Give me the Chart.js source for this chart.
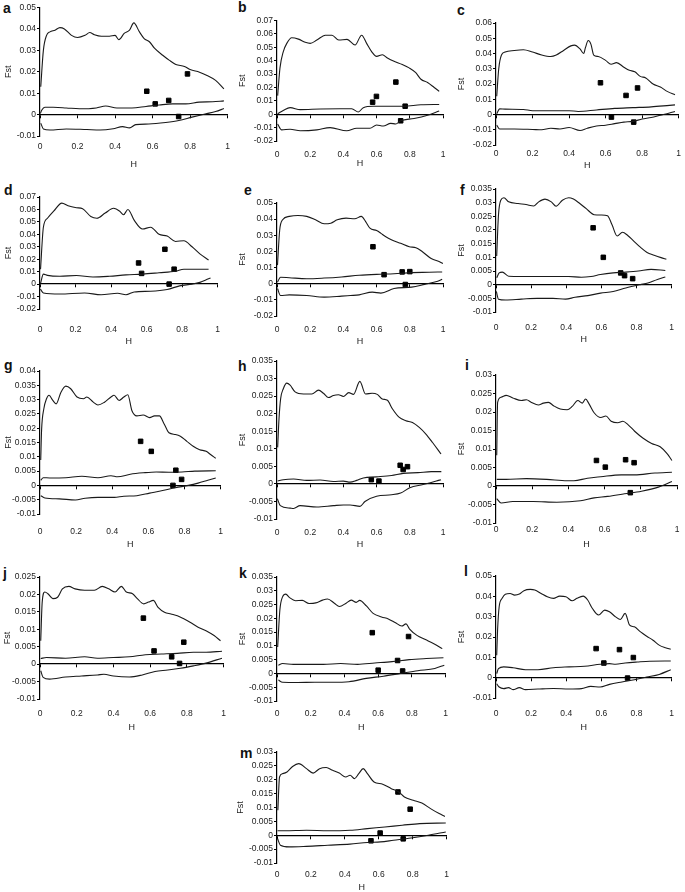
<!DOCTYPE html>
<html>
<head>
<meta charset="utf-8">
<script src="https://cdn.jsdelivr.net/npm/chart.js@4.4.0/dist/chart.umd.min.js"></script>
<style>
  body { margin: 0; background: #fff; }
  #page { position: relative; width: 685px; height: 892px; overflow: hidden; background: #fff; }
  #page canvas { position: absolute; }
  .tag { position: absolute; font: bold 14px "Liberation Sans", Arial, sans-serif; color: #111; line-height: 16px; }
</style>
</head>
<body>
<div id="page"></div>
<script>
// ---- data: [H, Fst] pairs ----
const upperA = [[0.004,0.013],[0.018,0.030],[0.035,0.037],[0.053,0.0386],[0.08,0.0394],[0.106,0.0406],[0.13,0.040],[0.168,0.037],[0.2,0.036],[0.24,0.037],[0.265,0.0383],[0.29,0.0373],[0.327,0.0366],[0.37,0.0366],[0.4,0.037],[0.42,0.035],[0.45,0.038],[0.477,0.0394],[0.5,0.0428],[0.53,0.0386],[0.555,0.0355],[0.583,0.034],[0.61,0.031],[0.654,0.0277],[0.69,0.0253],[0.724,0.0234],[0.77,0.0225],[0.8,0.021],[0.85,0.0198],[0.89,0.0183],[0.936,0.016],[0.98,0.012]];
const medianA = [[0.002,0.0005],[0.009,0.002],[0.026,0.0034],[0.07,0.0034],[0.14,0.0031],[0.21,0.0027],[0.3,0.0031],[0.35,0.004],[0.41,0.0031],[0.49,0.0031],[0.565,0.0038],[0.636,0.0045],[0.707,0.005],[0.777,0.005],[0.848,0.0058],[0.92,0.006],[0.98,0.0064]];
const lowerA = [[0.004,-0.004],[0.018,-0.0067],[0.053,-0.0072],[0.14,-0.0067],[0.25,-0.007],[0.32,-0.0072],[0.39,-0.0066],[0.44,-0.0056],[0.477,-0.0062],[0.51,-0.0047],[0.58,-0.0044],[0.67,-0.0037],[0.74,-0.0028],[0.81,-0.0012],[0.88,0.0003],[0.936,0.0014],[0.98,0.0028]];
const pointsA = [[0.569,0.0109],[0.614,0.005],[0.686,0.0066],[0.739,-0.0009],[0.786,0.019]];

const upperB = [[0.004,0.0139],[0.018,0.0346],[0.038,0.0468],[0.059,0.0529],[0.089,0.0571],[0.129,0.0561],[0.17,0.0537],[0.2,0.0529],[0.24,0.0554],[0.291,0.059],[0.331,0.059],[0.372,0.0554],[0.422,0.0559],[0.47,0.0517],[0.51,0.059],[0.54,0.0529],[0.57,0.0468],[0.6,0.0432],[0.635,0.0444],[0.665,0.042],[0.705,0.0395],[0.755,0.0371],[0.796,0.0346],[0.836,0.031],[0.867,0.0261],[0.907,0.0237],[0.947,0.02],[0.977,0.0171]];
const medianB = [[0.004,0.0003],[0.04,0.003],[0.079,0.0049],[0.14,0.0034],[0.26,0.0039],[0.38,0.0041],[0.45,0.0041],[0.49,0.0017],[0.52,0.0049],[0.58,0.0059],[0.665,0.0059],[0.765,0.0059],[0.867,0.0071],[0.977,0.0073]];
const lowerB = [[0.004,-0.0073],[0.028,-0.0117],[0.079,-0.0112],[0.14,-0.0124],[0.24,-0.0117],[0.32,-0.01],[0.42,-0.0124],[0.48,-0.0105],[0.56,-0.0105],[0.6,-0.008],[0.64,-0.0088],[0.685,-0.0068],[0.715,-0.0073],[0.745,-0.0049],[0.826,-0.0032],[0.907,-0.0007],[0.977,0.0024]];
const pointsB = [[0.576,0.009],[0.599,0.0133],[0.716,0.024],[0.772,0.006],[0.745,-0.0049]];

const upperC = [[0.004,0.012],[0.015,0.03],[0.03,0.039],[0.05,0.041],[0.1,0.042],[0.15,0.0425],[0.2,0.041],[0.25,0.039],[0.3,0.038],[0.33,0.039],[0.37,0.042],[0.41,0.045],[0.43,0.0455],[0.46,0.043],[0.48,0.04],[0.49,0.044],[0.505,0.0485],[0.52,0.046],[0.535,0.039],[0.56,0.038],[0.6,0.0355],[0.63,0.033],[0.66,0.034],[0.7,0.031],[0.73,0.029],[0.76,0.028],[0.79,0.025],[0.82,0.024],[0.86,0.02],[0.9,0.018],[0.94,0.015],[0.98,0.013]];
const medianC = [[0.004,0.0005],[0.02,0.0037],[0.05,0.0035],[0.15,0.0033],[0.2,0.0025],[0.3,0.0025],[0.4,0.0025],[0.45,0.002],[0.55,0.003],[0.65,0.004],[0.75,0.0045],[0.85,0.005],[0.95,0.006],[0.98,0.0063]];
const lowerC = [[0.004,-0.007],[0.02,-0.0095],[0.1,-0.0095],[0.2,-0.0098],[0.25,-0.01],[0.3,-0.009],[0.35,-0.0095],[0.4,-0.0085],[0.46,-0.0105],[0.5,-0.009],[0.55,-0.0075],[0.6,-0.007],[0.65,-0.006],[0.7,-0.005],[0.75,-0.0045],[0.8,-0.003],[0.85,-0.002],[0.9,-0.0005],[0.95,0.001],[0.98,0.002]];
const pointsC = [[0.572,0.0208],[0.632,-0.0017],[0.712,0.0125],[0.775,0.0174],[0.754,-0.005]];

const upperD = [[0.003,0.012],[0.019,0.0457],[0.042,0.0529],[0.077,0.0586],[0.123,0.0651],[0.158,0.0629],[0.205,0.0614],[0.24,0.0606],[0.286,0.0543],[0.32,0.0529],[0.367,0.0571],[0.414,0.0609],[0.449,0.0586],[0.47,0.0557],[0.495,0.06],[0.53,0.0514],[0.577,0.0443],[0.623,0.0457],[0.67,0.04],[0.716,0.0386],[0.763,0.0343],[0.81,0.0349],[0.856,0.03],[0.9,0.0243],[0.949,0.0194]];
const medianD = [[0.003,0.0005],[0.019,0.008],[0.042,0.007],[0.112,0.0063],[0.205,0.0069],[0.298,0.0057],[0.391,0.0063],[0.484,0.0074],[0.577,0.008],[0.67,0.0091],[0.763,0.0103],[0.81,0.012],[0.88,0.012],[0.949,0.012]];
const lowerD = [[0.002,-0.004],[0.019,-0.0071],[0.112,-0.008],[0.251,-0.0071],[0.344,-0.0086],[0.437,-0.0074],[0.484,-0.0086],[0.53,-0.0063],[0.623,-0.0057],[0.716,-0.0043],[0.786,-0.0014],[0.856,0],[0.9,0.0014],[0.949,0.0043],[0.96,0.0049]];
const pointsD = [[0.555,0.017],[0.572,0.0086],[0.703,0.028],[0.755,0.012],[0.727,0]];

const upperE = [[0.003,0.0115],[0.016,0.033],[0.034,0.0396],[0.074,0.0417],[0.126,0.0423],[0.179,0.0417],[0.232,0.0396],[0.284,0.0371],[0.324,0.0375],[0.363,0.0396],[0.416,0.0406],[0.468,0.0402],[0.508,0.0417],[0.534,0.0385],[0.56,0.0344],[0.6,0.0329],[0.626,0.0312],[0.653,0.0292],[0.692,0.0271],[0.745,0.025],[0.797,0.0229],[0.837,0.0223],[0.876,0.0198],[0.929,0.0156],[0.982,0.0135],[1.0,0.0125]];
const medianE = [[0.003,0.001],[0.021,0.004],[0.074,0.0037],[0.179,0.0031],[0.284,0.0035],[0.389,0.0042],[0.495,0.0052],[0.6,0.0058],[0.705,0.0062],[0.811,0.0069],[0.916,0.0071],[0.995,0.0073]];
const lowerE = [[0.003,-0.003],[0.021,-0.0073],[0.074,-0.0069],[0.179,-0.0073],[0.284,-0.0083],[0.389,-0.0077],[0.442,-0.0073],[0.495,-0.0069],[0.574,-0.0052],[0.626,-0.0058],[0.705,-0.003],[0.811,-0.0021],[0.889,-0.0004],[0.968,0.0015],[0.995,0.0027]];
const pointsE = [[0.578,0.0229],[0.645,0.0056],[0.754,0.0073],[0.8,0.0075],[0.773,-0.0005]];

const upperF = [[0.004,0.0105],[0.014,0.0254],[0.027,0.0309],[0.045,0.0318],[0.072,0.0303],[0.126,0.0297],[0.171,0.0293],[0.216,0.0288],[0.243,0.0303],[0.279,0.0313],[0.315,0.0303],[0.342,0.0287],[0.378,0.0309],[0.414,0.0318],[0.441,0.0313],[0.477,0.0297],[0.514,0.0278],[0.559,0.0256],[0.6,0.0255],[0.635,0.0252],[0.66,0.022],[0.69,0.0178],[0.72,0.0192],[0.75,0.018],[0.78,0.0162],[0.82,0.0138],[0.86,0.0118],[0.9,0.0108],[0.94,0.0099],[0.97,0.0093]];
const medianF = [[0.004,0.0025],[0.018,0.0043],[0.036,0.0046],[0.072,0.0031],[0.144,0.003],[0.234,0.003],[0.324,0.003],[0.414,0.003],[0.486,0.0027],[0.541,0.003],[0.595,0.0037],[0.667,0.0043],[0.739,0.0046],[0.811,0.005],[0.883,0.0056],[0.964,0.0052]];
const lowerF = [[0.002,-0.0025],[0.014,-0.0053],[0.054,-0.0056],[0.144,-0.0053],[0.234,-0.005],[0.324,-0.005],[0.396,-0.0053],[0.45,-0.0046],[0.523,-0.004],[0.595,-0.0031],[0.667,-0.0025],[0.739,-0.0012],[0.82,0],[0.865,0.0006],[0.919,0.0019],[0.964,0.0028]];
const pointsF = [[0.553,0.0208],[0.611,0.01],[0.71,0.0043],[0.732,0.0033],[0.778,0.0022]];

const upperG = [[0.004,0.0089],[0.009,0.0196],[0.021,0.0267],[0.036,0.0303],[0.05,0.0315],[0.071,0.0297],[0.089,0.0285],[0.116,0.0326],[0.143,0.0347],[0.17,0.0338],[0.205,0.0309],[0.241,0.0303],[0.259,0.0309],[0.295,0.0291],[0.321,0.0281],[0.357,0.0291],[0.393,0.0309],[0.41,0.0315],[0.438,0.0297],[0.464,0.0309],[0.486,0.0317],[0.509,0.0261],[0.536,0.0243],[0.571,0.0246],[0.607,0.0237],[0.634,0.0243],[0.661,0.0243],[0.688,0.0214],[0.714,0.0184],[0.75,0.0178],[0.777,0.0172],[0.813,0.0154],[0.848,0.0137],[0.884,0.0125],[0.92,0.0119],[0.946,0.0107],[0.973,0.0095]];
const medianG = [[0.004,0.0018],[0.018,0.0027],[0.054,0.0026],[0.143,0.0027],[0.232,0.0032],[0.321,0.0027],[0.393,0.0034],[0.429,0.003],[0.5,0.0039],[0.571,0.0044],[0.643,0.0047],[0.714,0.0046],[0.786,0.0047],[0.857,0.005],[0.973,0.0051]];
const lowerG = [[0.004,-0.0036],[0.027,-0.0044],[0.107,-0.0047],[0.196,-0.0051],[0.25,-0.0045],[0.321,-0.0042],[0.411,-0.0042],[0.464,-0.0038],[0.536,-0.0036],[0.607,-0.0027],[0.679,-0.0018],[0.75,-0.0008],[0.821,0],[0.875,0.0008],[0.929,0.0018],[0.973,0.0026]];
const pointsG = [[0.557,0.0154],[0.616,0.0119],[0.752,0.0053],[0.784,0.0021],[0.736,0]];

const upperH = [[0.004,0.0104],[0.012,0.0185],[0.022,0.0243],[0.038,0.0271],[0.059,0.0287],[0.079,0.0281],[0.109,0.0262],[0.16,0.0256],[0.21,0.0256],[0.25,0.0267],[0.28,0.0258],[0.31,0.0246],[0.34,0.0252],[0.37,0.0254],[0.4,0.0249],[0.432,0.026],[0.461,0.0255],[0.499,0.0292],[0.533,0.0256],[0.573,0.0258],[0.604,0.0255],[0.634,0.0242],[0.665,0.0238],[0.695,0.0214],[0.735,0.019],[0.776,0.018],[0.816,0.0175],[0.857,0.0161],[0.897,0.0142],[0.937,0.0118],[0.988,0.0085]];
const medianH = [[0.004,0.0008],[0.038,0.0012],[0.1,0.0014],[0.18,0.001],[0.26,0.0011],[0.34,0.0007],[0.4,0.0008],[0.44,0.0005],[0.48,0.001],[0.52,0.0017],[0.6,0.002],[0.69,0.0024],[0.76,0.003],[0.85,0.0032],[0.93,0.0035],[0.99,0.0035]];
const lowerH = [[0.002,-0.0042],[0.02,-0.0062],[0.079,-0.0069],[0.1,-0.007],[0.139,-0.0062],[0.24,-0.0066],[0.34,-0.0062],[0.4,-0.006],[0.44,-0.006],[0.5,-0.0064],[0.53,-0.005],[0.6,-0.0035],[0.69,-0.0031],[0.745,-0.0026],[0.8,-0.0011],[0.88,-0.0002],[0.96,0.0008],[0.988,0.0012]];
const pointsH = [[0.568,0.0012],[0.614,0.0008],[0.742,0.0053],[0.76,0.0041],[0.786,0.0049]];

const upperI = [[0.004,0.0083],[0.009,0.0226],[0.028,0.024],[0.056,0.0245],[0.093,0.0238],[0.14,0.0231],[0.168,0.0233],[0.196,0.0226],[0.234,0.0219],[0.262,0.0224],[0.29,0.0226],[0.318,0.0217],[0.355,0.0208],[0.393,0.0206],[0.421,0.0215],[0.452,0.0231],[0.477,0.0224],[0.495,0.0235],[0.514,0.0222],[0.542,0.0198],[0.579,0.0185],[0.607,0.0189],[0.636,0.0175],[0.673,0.0171],[0.701,0.0175],[0.729,0.0166],[0.766,0.0148],[0.813,0.0129],[0.86,0.0115],[0.907,0.0106],[0.944,0.0088],[0.972,0.0069]];
const medianI = [[0.004,0.0018],[0.056,0.0018],[0.168,0.002],[0.28,0.0018],[0.393,0.0014],[0.43,0.0014],[0.505,0.0021],[0.579,0.0025],[0.692,0.003],[0.766,0.003],[0.878,0.0035],[0.972,0.0037]];
const lowerI = [[0.004,-0.0034],[0.028,-0.0046],[0.093,-0.0042],[0.206,-0.0042],[0.336,-0.0044],[0.467,-0.004],[0.542,-0.0032],[0.617,-0.0028],[0.71,-0.0021],[0.804,-0.0014],[0.897,-0.0003],[0.972,0.0012]];
const pointsI = [[0.555,0.0069],[0.604,0.0051],[0.716,0.0071],[0.763,0.0063],[0.742,-0.0018]];

const upperJ = [[0.004,0.0067],[0.012,0.0178],[0.026,0.0207],[0.043,0.0202],[0.07,0.0188],[0.096,0.0192],[0.122,0.0216],[0.157,0.0223],[0.191,0.0216],[0.243,0.0212],[0.296,0.0212],[0.339,0.0223],[0.374,0.0216],[0.409,0.0207],[0.443,0.0223],[0.47,0.0207],[0.504,0.0202],[0.53,0.0188],[0.565,0.0173],[0.591,0.0178],[0.617,0.0183],[0.643,0.0163],[0.678,0.0149],[0.713,0.0144],[0.748,0.0139],[0.783,0.013],[0.817,0.012],[0.861,0.0106],[0.904,0.0096],[0.948,0.0082],[0.983,0.0067]];
const medianJ = [[0.004,0.0016],[0.035,0.0019],[0.139,0.0017],[0.243,0.0021],[0.313,0.0017],[0.4,0.0019],[0.487,0.0021],[0.574,0.0027],[0.661,0.0029],[0.748,0.0031],[0.835,0.0034],[0.904,0.0034],[0.991,0.0037]];
const lowerJ = [[0.004,-0.0019],[0.017,-0.0038],[0.052,-0.0043],[0.139,-0.0037],[0.226,-0.0034],[0.313,-0.0031],[0.348,-0.0029],[0.4,-0.0034],[0.487,-0.0037],[0.557,-0.0031],[0.626,-0.0021],[0.696,-0.0017],[0.765,-0.0012],[0.835,-0.0005],[0.904,0.0003],[0.991,0.0017]];
const pointsJ = [[0.563,0.0132],[0.621,0.0038],[0.717,0.0021],[0.76,0.0002],[0.783,0.0063]];

const upperK = [[0.004,0.0096],[0.017,0.023],[0.033,0.0278],[0.052,0.0288],[0.075,0.0275],[0.11,0.0264],[0.15,0.0265],[0.19,0.0254],[0.23,0.0256],[0.27,0.0266],[0.3,0.027],[0.34,0.0255],[0.37,0.0243],[0.41,0.0255],[0.44,0.0266],[0.47,0.0258],[0.49,0.0265],[0.53,0.0245],[0.57,0.0218],[0.62,0.0205],[0.66,0.0198],[0.7,0.0185],[0.74,0.0172],[0.765,0.018],[0.785,0.0162],[0.83,0.0138],[0.88,0.0123],[0.93,0.0108],[0.98,0.009]];
const medianK = [[0.008,0.003],[0.033,0.0036],[0.097,0.0033],[0.275,0.0033],[0.377,0.0036],[0.478,0.0033],[0.58,0.0038],[0.682,0.0043],[0.784,0.005],[0.885,0.0054],[0.987,0.0057]];
const lowerK = [[0.008,-0.0024],[0.033,-0.0032],[0.122,-0.0033],[0.224,-0.0032],[0.326,-0.0032],[0.427,-0.003],[0.529,-0.0018],[0.631,-0.001],[0.733,0],[0.835,0.001],[0.936,0.0018],[0.992,0.003]];
const pointsK = [[0.565,0.0148],[0.78,0.0134],[0.6,0.0012],[0.715,0.0047],[0.745,0.0009]];

const upperL = [[0.004,0.011],[0.009,0.0234],[0.018,0.0349],[0.035,0.039],[0.053,0.041],[0.08,0.0414],[0.106,0.0406],[0.133,0.0411],[0.159,0.0428],[0.195,0.0434],[0.221,0.0431],[0.257,0.0414],[0.292,0.0398],[0.327,0.039],[0.363,0.0401],[0.398,0.0398],[0.434,0.0378],[0.46,0.039],[0.496,0.0401],[0.522,0.0382],[0.549,0.034],[0.584,0.0308],[0.619,0.0332],[0.646,0.0324],[0.681,0.0299],[0.708,0.0286],[0.735,0.0316],[0.761,0.0258],[0.788,0.025],[0.823,0.0225],[0.858,0.0204],[0.894,0.0184],[0.929,0.016],[0.965,0.0147],[0.995,0.014]];
const medianL = [[0.004,0.002],[0.014,0.0044],[0.044,0.0053],[0.097,0.0049],[0.168,0.0039],[0.239,0.0039],[0.327,0.0049],[0.416,0.0053],[0.504,0.0056],[0.593,0.0066],[0.646,0.0069],[0.681,0.0066],[0.735,0.0072],[0.805,0.0077],[0.876,0.0081],[0.995,0.0082]];
const lowerL = [[0.004,-0.003],[0.018,-0.0046],[0.044,-0.0054],[0.071,-0.0049],[0.097,-0.0059],[0.133,-0.0049],[0.168,-0.0059],[0.239,-0.0056],[0.327,-0.0053],[0.416,-0.0056],[0.487,-0.0054],[0.54,-0.0043],[0.593,-0.0046],[0.646,-0.0033],[0.717,-0.0021],[0.788,-0.001],[0.858,0.0003],[0.929,0.0016],[0.995,0.0039]];
const pointsL = [[0.57,0.0143],[0.614,0.0072],[0.703,0.0138],[0.782,0.0099],[0.749,-0.0002]];

const upperM = [[0.005,0.009],[0.015,0.021],[0.033,0.0222],[0.059,0.0228],[0.092,0.0248],[0.128,0.0258],[0.174,0.024],[0.213,0.0224],[0.251,0.024],[0.29,0.0244],[0.328,0.0234],[0.367,0.0224],[0.405,0.021],[0.431,0.0216],[0.456,0.0204],[0.482,0.0222],[0.508,0.024],[0.533,0.0222],[0.572,0.0192],[0.623,0.0184],[0.674,0.0168],[0.718,0.0156],[0.751,0.0138],[0.803,0.0126],[0.854,0.0116],[0.905,0.0096],[0.956,0.0078],[0.99,0.0068]];
const medianM = [[0.003,0.0016],[0.046,0.0016],[0.174,0.0018],[0.3,0.0016],[0.431,0.0018],[0.533,0.0024],[0.636,0.003],[0.738,0.0036],[0.841,0.0042],[0.995,0.0044]];
const lowerM = [[0.003,-0.0012],[0.02,-0.0036],[0.072,-0.0042],[0.174,-0.004],[0.3,-0.0036],[0.43,-0.0032],[0.533,-0.0026],[0.61,-0.0024],[0.687,-0.0018],[0.79,-0.001],[0.892,0],[0.995,0.0012]];
const pointsM = [[0.554,-0.002],[0.608,0.0008],[0.713,0.0156],[0.744,-0.0013],[0.785,0.0094]];

const panelIds = ['a','b','c','d','e','f','g','h','i','j','k','l','m'];
const upperCurves = [upperA,upperB,upperC,upperD,upperE,upperF,upperG,upperH,upperI,upperJ,upperK,upperL,upperM];
const medianCurves = [medianA,medianB,medianC,medianD,medianE,medianF,medianG,medianH,medianI,medianJ,medianK,medianL,medianM];
const lowerCurves = [lowerA,lowerB,lowerC,lowerD,lowerE,lowerF,lowerG,lowerH,lowerI,lowerJ,lowerK,lowerL,lowerM];
const locusPoints = [pointsA,pointsB,pointsC,pointsD,pointsE,pointsF,pointsG,pointsH,pointsI,pointsJ,pointsK,pointsL,pointsM];

// y-axis ticks per panel, x ticks shared
const yMin = [-0.01,-0.02,-0.02,-0.02,-0.02,-0.01,-0.01,-0.01,-0.01,-0.01,-0.01,-0.01,-0.01];
const yMax = [0.05,0.07,0.06,0.07,0.05,0.035,0.04,0.035,0.03,0.025,0.035,0.05,0.03];
const yStep = [0.01,0.01,0.01,0.01,0.01,0.005,0.005,0.005,0.005,0.005,0.005,0.01,0.005];
const xTicks = [0, 0.2, 0.4, 0.6, 0.8, 1];

// ---- layout (page pixels) ----
const colLeft = [0, 236, 456];
const colWidth = [236, 220, 229];
// plot left/right/top/bottom, x tick label centre, H centre, Fst centre x, letter position
const frames = [
  {col:0, l:40,  r:229, t:7.5, b:136, tick:147, h:165, fst:9,   lx:3,   ly:8},
  {col:1, l:277, r:443, t:20.5,b:141, tick:155, h:164, fst:243, lx:238, ly:7},
  {col:2, l:496, r:682, t:23,  b:145, tick:154, h:166, fst:462, lx:457, ly:10},
  {col:0, l:40,  r:229, t:197, b:309, tick:330, h:342, fst:9,   lx:4,   ly:190},
  {col:1, l:277, r:443, t:203, b:316, tick:330, h:342, fst:243, lx:244, ly:190},
  {col:2, l:496, r:682, t:189, b:312, tick:328, h:340, fst:462, lx:460, ly:190},
  {col:0, l:40,  r:229, t:371, b:514, tick:532, h:545, fst:9,   lx:4,   ly:365},
  {col:1, l:277, r:443, t:361, b:519, tick:533, h:545, fst:243, lx:238, ly:366},
  {col:2, l:496, r:677, t:375, b:523, tick:530, h:545, fst:462, lx:465, ly:365},
  {col:0, l:40,  r:231, t:577, b:699, tick:714, h:728, fst:8,   lx:3,   ly:573},
  {col:1, l:277, r:449, t:577, b:701, tick:714, h:728, fst:243, lx:239, ly:573},
  {col:2, l:496, r:683, t:576, b:698, tick:714, h:728, fst:462, lx:464, ly:571},
  {col:1, l:277, r:448, t:752, b:863, tick:875, h:888, fst:241, lx:240, ly:753}
];

Chart.defaults.font.family = '"Liberation Sans", Arial, sans-serif';
Chart.defaults.color = '#222';

const page = document.getElementById('page');
const xy = pts => pts.map(([x, y]) => ({x, y}));
const fmt = v => String(+(+v).toFixed(4));

const curve = pts => ({
  data: xy(pts), xAxisID: 'x', yAxisID: 'y',
  showLine: true, pointRadius: 0, borderColor: '#1a1a1a', borderWidth: 1.1,
  cubicInterpolationMode: 'monotone', fill: false
});

panelIds.forEach((id, i) => {
  const f = frames[i];
  const left = colLeft[f.col], width = colWidth[f.col];
  const top = Math.floor(f.t) - 7;
  const height = f.h + 6 - top;

  const tag = document.createElement('div');
  tag.className = 'tag';
  tag.textContent = id;
  tag.style.left = f.lx + 'px';
  tag.style.top = (f.ly - 8) + 'px';
  page.appendChild(tag);

  const cv = document.createElement('canvas');
  cv.width = width; cv.height = height;
  cv.style.left = left + 'px'; cv.style.top = top + 'px';
  page.appendChild(cv);

  new Chart(cv, {
    type: 'scatter',
    data: {
      datasets: [
        curve(upperCurves[i]),
        curve(medianCurves[i]),
        curve(lowerCurves[i]),
        {
          data: xy(locusPoints[i]), xAxisID: 'x', yAxisID: 'y',
          pointStyle: 'rect', pointRadius: 3.2, borderWidth: 1,
          backgroundColor: '#000', borderColor: '#000'
        }
      ]
    },
    options: {
      responsive: false,
      animation: false,
      events: [],
      layout: { padding: { top: f.t - top, right: left + width - f.r, bottom: 0, left: 0 } },
      plugins: { legend: { display: false }, tooltip: { enabled: false } },
      scales: {
        x: {
          type: 'linear', position: 'bottom', min: 0, max: 1,
          afterBuildTicks: s => { s.ticks = xTicks.map(v => ({value: v})); },
          ticks: { autoSkip: false, maxRotation: 0, padding: f.tick - 5 - f.b, font: { size: 8.5 }, callback: fmt },
          grid: { display: false, drawTicks: false },
          border: { display: false },
          title: { display: true, text: 'H', font: { size: 9, lineHeight: 1 }, padding: { top: 0, bottom: 1.5 } },
          afterFit: s => { s.height = height - (f.b - top); }
        },
        zero: {
          axis: 'x', type: 'linear', position: { y: 0 }, min: 0, max: 1,
          afterBuildTicks: s => { s.ticks = xTicks.map(v => ({value: v})); },
          ticks: { display: false },
          grid: { display: true, drawOnChartArea: false, drawTicks: true, tickLength: 3, color: '#000', lineWidth: 1 },
          border: { display: true, color: '#000', width: 1.3 }
        },
        y: {
          type: 'linear', position: 'left', min: yMin[i], max: yMax[i],
          ticks: { stepSize: yStep[i], autoSkip: false, padding: 1, font: { size: 8.5 }, callback: fmt },
          grid: { display: true, drawOnChartArea: false, drawTicks: true, tickLength: 3, color: '#000', lineWidth: 1 },
          border: { display: true, color: '#000', width: 1.2 },
          title: { display: true, text: 'Fst', font: { size: 9, lineHeight: 1 }, padding: { top: f.fst - left - 4.5, bottom: 0 } },
          afterFit: s => { s.width = f.l - left; }
        }
      }
    }
  });
});
</script>
</body>
</html>
